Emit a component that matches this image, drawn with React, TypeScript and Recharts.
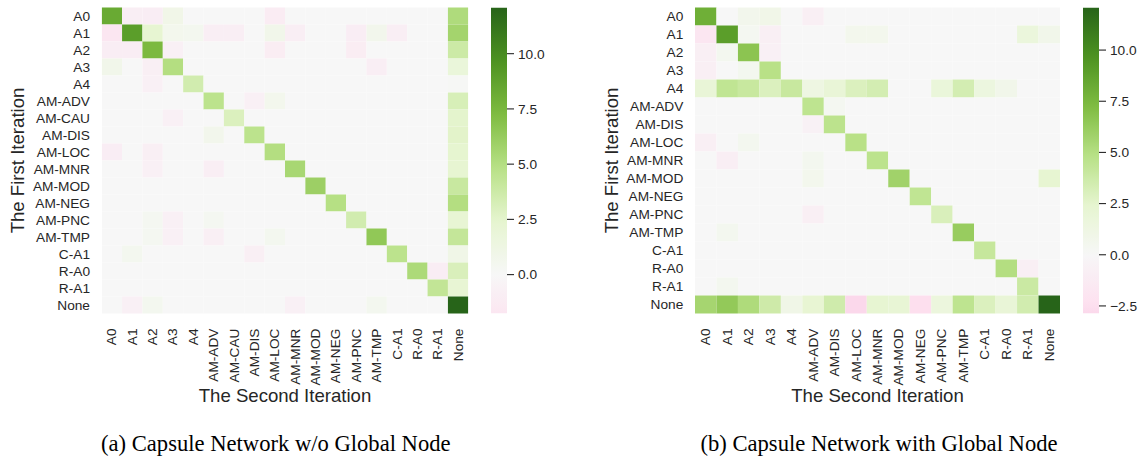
import React from 'react';
import { BarChart, Bar, XAxis, YAxis, Cell } from 'recharts';

const SANS = '"Liberation Sans", Arial, Helvetica, sans-serif';
const SERIF = '"Liberation Serif", "Times New Roman", serif';
const TEXT = '#262626';

// ---------- data ----------
const leftLabels = ['A0', 'A1', 'A2', 'A3', 'A4', 'AM-ADV', 'AM-CAU', 'AM-DIS', 'AM-LOC', 'AM-MNR', 'AM-MOD', 'AM-NEG', 'AM-PNC', 'AM-TMP', 'C-A1', 'R-A0', 'R-A1', 'None'];
const rightLabels = ['A0', 'A1', 'A2', 'A3', 'A4', 'AM-ADV', 'AM-DIS', 'AM-LOC', 'AM-MNR', 'AM-MOD', 'AM-NEG', 'AM-PNC', 'AM-TMP', 'C-A1', 'R-A0', 'R-A1', 'None'];

// rows = first iteration, columns = second iteration
const leftValues: number[][] = [
  [8.3, -0.9, -1.0, 0.9, 0, 0, 0, 0, -1.2, 0, 0, 0, 0, 0, 0, 0, 0, 5.2],
  [-1.76, 9.0, 2.3, 0.6, 0.5, -0.9, -0.9, 0, 0.8, -0.9, 0, 0, -1.0, 0.7, -0.9, 0, 0, 5.7],
  [-1.0, -1.0, 7.4, -0.7, 0, 0, 0, 0, -1.1, 0, 0, 0, -1.1, 0, 0, 0, 0, 3.8],
  [0.8, 0, -0.8, 5.0, 0, 0, 0, 0, 0, 0, 0, 0, 0, -0.9, 0, 0, 0, 1.8],
  [0, 0, -0.7, 0, 3.5, 0, 0, 0, 0, 0, 0, 0, 0, 0, 0, 0, 0, 0.1],
  [0, 0, 0, 0, 0, 4.6, 0, -0.7, 0.6, 0, 0, 0, 0, 0, 0, 0, 0, 3.2],
  [0, 0, 0, -0.7, 0, 0, 3.0, 0, 0, 0, 0, 0, 0, 0, 0, 0, 0, 2.5],
  [0, 0, 0, 0, 0, 0.7, 0, 4.6, 0, 0, 0, 0, 0, 0, 0, 0, 0, 2.6],
  [-1.0, 0, -0.8, 0, 0, 0, 0, 0, 5.0, 0, 0, 0, 0, 0, 0, 0, 0, 2.4],
  [0, 0, -0.7, 0, 0, -0.9, 0, 0, 0, 5.5, 0, 0, 0, 0, 0, 0, 0, 2.3],
  [0, 0, 0, 0, 0, 0, 0, 0, 0, 0, 6.0, 0, 0, 0, 0, 0, 0, 4.0],
  [0, 0, 0, 0, 0, 0, 0, 0, 0, 0, 0, 4.9, 0, 0, 0, 0, 0, 5.0],
  [0, 0, 0.4, -0.7, 0, 0.4, 0, 0, 0, 0, 0, 0, 3.5, 0, 0, 0, 0, 2.2],
  [0, 0, 0.4, -0.7, 0, -0.8, 0, 0, 0.5, 0, 0, 0, 0, 6.5, 0, 0, 0, 4.2],
  [0, 0.5, 0, 0, 0, 0, 0, -0.8, 0, 0, 0, 0, 0, 0, 4.6, 0, 0, 1.0],
  [0, 0, 0, 0, 0, 0, 0, 0, 0, 0, 0, 0, 0, 0, 0, 5.3, -1.0, 3.1],
  [0, 0, 0, 0, 0, 0, 0, 0, 0, 0, 0, 0, 0, 0, 0, 0, 4.3, 2.2],
  [0, -0.7, 0.5, 0, 0, 0, 0, 0, 0, -0.7, 0, 0, 0, 0.5, 0, 0, 0, 12.09],
];

const rightValues: number[][] = [
  [8.0, 0, 0.7, 0.9, 0, -0.8, 0, 0, 0, 0, 0, 0, 0, 0, 0, 0, 0],
  [-1.8, 9.0, 0.4, -0.8, 0, 0, 0, 0.6, 0.6, 0, 0, 0, 0, 0, 0, 1.7, 0.8],
  [-0.8, 0.5, 6.7, -0.7, 0, 0, 0, 0, 0, 0, 0, 0, 0, 0, 0, 0, 0],
  [-0.8, 0, 0.5, 4.8, 0, 0, 0, 0, 0, 0, 0, 0, 0, 0, 0, 0, 0],
  [2.0, 4.4, 4.0, 3.0, 4.0, 1.3, 2.0, 3.0, 3.4, 0, 0, 1.8, 3.4, 1.5, 0.8, 0, 0],
  [0, 0, 0, 0, 0, 4.5, 0.4, 0, 0, 0, 0, 0, 0, 0, 0, 0, 0],
  [0, 0, 0, 0, 0, -0.6, 4.6, 0, 0, 0, 0, 0, 0, 0, 0, 0, 0],
  [-0.8, 0, 0.5, 0, 0, 0, 0, 4.8, 0, 0, 0, 0, 0, 0, 0, 0, 0],
  [0, -0.9, 0, 0, 0, 0.5, 0, 0, 4.6, 0, 0, 0, 0, 0, 0, 0, 0],
  [0, 0, 0, 0, 0, 0.6, 0, 0, 0, 5.8, 0, 0, 0, 0, 0, 0, 2.3],
  [0, 0, 0, 0, 0, 0, 0, 0, 0, 0, 4.4, 0, 0, 0, 0, 0, 0],
  [0, 0, 0, 0, 0, -0.8, 0, 0, 0, 0, 0, 3.1, 0, 0, 0, 0, 0],
  [0, 0.5, 0, 0, 0, 0, 0, 0, 0, 0, 0, 0, 6.2, 0, 0, 0, 0],
  [0, 0, 0, 0, 0, 0, 0, 0, 0, 0, 0, 0, 0, 4.1, 0, 0, 0],
  [0, 0, 0, 0, 0, 0, 0, 0, 0, 0, 0, 0, 0, 0, 5.0, -0.8, 0],
  [0, 0.5, 0, 0, 0, 0, 0, 0, 0, 0, 0, 0, 0, 0, 0, 3.9, 0],
  [5.6, 6.4, 5.2, 3.7, 1.0, 2.2, 3.6, -2.87, 2.3, 2.1, -2.5, 1.6, 4.5, 3.0, 2.0, 3.5, 12.08],
];

const leftRange = [-1.76, 12.09];
const rightRange = [-2.87, 12.08];
const leftBarTicks = [0, 2.5, 5, 7.5, 10];
const rightBarTicks = [-2.5, 0, 2.5, 5, 7.5, 10];

const xTitle = 'The Second Iteration';
const yTitle = 'The First Iteration';
const captionA = '(a) Capsule Network w/o Global Node';
const captionB = '(b) Capsule Network with Global Node';

// ---------- colour map (PiYG, centred at 0 like seaborn center=0) ----------
const PIYG = [
  [142, 1, 82], [197, 27, 125], [222, 119, 174], [241, 182, 218], [253, 224, 239],
  [247, 247, 247], [230, 245, 208], [184, 225, 134], [127, 188, 65], [77, 146, 33], [39, 100, 25],
];
function colorFor(v: number, vrange: number): string {
  let t = 0.5 + v / (2 * vrange);
  t = Math.max(0, Math.min(1, t));
  const p = t * 10;
  const i = Math.min(9, Math.floor(p));
  const f = p - i;
  const a = PIYG[i];
  const b = PIYG[i + 1];
  const c = a.map((x, k) => Math.round(x + (b[k] - x) * f));
  return `rgb(${c[0]},${c[1]},${c[2]})`;
}

const CH = 400; // chart height
const PLOT_TOP = 7.5;
const PLOT_BOTTOM = 313.5;

function Heatmap(props: { labels: string[]; values: number[][]; vrange: number; left: number; width: number; yAxisWidth: number; right: number }) {
  const { labels, values, vrange, left, width, yAxisWidth, right } = props;
  const n = labels.length;
  const data = labels.map((lab) => {
    const o: any = { row: lab };
    for (let j = 0; j < n; j++) o['c' + j] = 1;
    return o;
  });
  const ticks = labels.map((_, j) => j + 0.5);
  const renderXTick = (p: any) => {
    const idx = Math.floor(p.payload.value);
    return (
      <text
        transform={`translate(${p.x},${p.y + 15}) rotate(-90)`}
        textAnchor="end"
        dominantBaseline="central"
        fontSize={13.7}
        fill={TEXT}
        fontFamily={SANS}
      >
        {labels[idx]}
      </text>
    );
  };
  return (
    <div style={{ position: 'absolute', left, top: 0 }}>
      <BarChart
        width={width}
        height={CH}
        data={data}
        layout="vertical"
        margin={{ top: PLOT_TOP, right, bottom: 0, left: 0 }}
        barCategoryGap={0}
        barGap={0}
      >
        <XAxis
          type="number"
          domain={[0, n]}
          ticks={ticks}
          interval={0}
          allowDataOverflow
          tickLine={false}
          axisLine={false}
          tickSize={0}
          tickMargin={0}
          height={CH - PLOT_BOTTOM}
          tick={renderXTick}
        />
        <YAxis
          type="category"
          dataKey="row"
          width={yAxisWidth}
          interval={0}
          tickLine={false}
          axisLine={false}
          tickSize={0}
          tickMargin={11.7}
          tick={{ fontSize: 13.7, fill: TEXT, fontFamily: SANS }}
        />
        {labels.map((_, j) => (
          <Bar key={j} dataKey={'c' + j} stackId="s" isAnimationActive={false}>
            {values.map((row, i) => (
              <Cell key={i} fill={colorFor(row[j], vrange)} />
            ))}
          </Bar>
        ))}
      </BarChart>
    </div>
  );
}

const fmtTick = (v: number) => v.toFixed(1).replace('-', '\u2212');

function ColorBar(props: { left: number; range: number[]; ticks: number[]; id: string }) {
  const { left, range, ticks, id } = props;
  return (
    <div style={{ position: 'absolute', left, top: 0 }}>
      <BarChart
        width={76}
        height={CH}
        data={[{ name: 'cb', range: [range[0], range[1]] }]}
        margin={{ top: PLOT_TOP, right: 0, bottom: CH - PLOT_BOTTOM, left: 0 }}
        barCategoryGap={0}
      >
        <XAxis dataKey="name" type="category" hide />
        <YAxis
          orientation="right"
          type="number"
          domain={[range[0], range[1]]}
          allowDataOverflow
          ticks={ticks}
          interval={0}
          width={60}
          axisLine={false}
          tickLine={{ stroke: TEXT, strokeWidth: 1.1 }}
          tickSize={7}
          tickMargin={4}
          tick={{ fontSize: 13.7, fill: TEXT, fontFamily: SANS }}
          tickFormatter={fmtTick}
        />
        <Bar dataKey="range" fill={`url(#${id})`} isAnimationActive={false} />
      </BarChart>
    </div>
  );
}

function gradientStops(range: number[]) {
  const [vmin, vmax] = range;
  const vr = Math.max(vmax, -vmin);
  const N = 48;
  const stops = [];
  for (let k = 0; k <= N; k++) {
    const v = vmax - ((vmax - vmin) * k) / N;
    stops.push(<stop key={k} offset={`${(k / N) * 100}%`} stopColor={colorFor(v, vr)} />);
  }
  return stops;
}

export default function App() {
  const lvr = Math.max(leftRange[1], -leftRange[0]);
  const rvr = Math.max(rightRange[1], -rightRange[0]);
  return (
    <div style={{ position: 'absolute', left: 0, top: 0, width: 1144, height: 457, background: '#ffffff', overflow: 'hidden' }}>
      <svg width={0} height={0} style={{ position: 'absolute' }}>
        <defs>
          <linearGradient id="cbLeft" x1="0" y1="0" x2="0" y2="1">
            {gradientStops(leftRange)}
          </linearGradient>
          <linearGradient id="cbRight" x1="0" y1="0" x2="0" y2="1">
            {gradientStops(rightRange)}
          </linearGradient>
        </defs>
      </svg>

      <Heatmap labels={leftLabels} values={leftValues} vrange={lvr} left={0} width={480} yAxisWidth={101.7} right={11.7} />
      <ColorBar left={491} range={leftRange} ticks={leftBarTicks} id="cbLeft" />

      <Heatmap labels={rightLabels} values={rightValues} vrange={rvr} left={560} width={510} yAxisWidth={135} right={10} />
      <ColorBar left={1083} range={rightRange} ticks={rightBarTicks} id="cbRight" />

      <svg width={1144} height={457} style={{ position: 'absolute', left: 0, top: 0, pointerEvents: 'none' }}>
        <text x={285} y={401.7} textAnchor="middle" fontSize={18.6} fill={TEXT} fontFamily={SANS}>{xTitle}</text>
        <text x={877.5} y={401.7} textAnchor="middle" fontSize={18.6} fill={TEXT} fontFamily={SANS}>{xTitle}</text>
        <text transform="translate(24,160.5) rotate(-90)" textAnchor="middle" fontSize={18.6} fill={TEXT} fontFamily={SANS}>{yTitle}</text>
        <text transform="translate(617.7,160.5) rotate(-90)" textAnchor="middle" fontSize={18.6} fill={TEXT} fontFamily={SANS}>{yTitle}</text>
        <text x={275.8} y={451} textAnchor="middle" fontSize={22.6} fill="#000" fontFamily={SERIF}>{captionA}</text>
        <text x={879} y={451} textAnchor="middle" fontSize={22.6} fill="#000" fontFamily={SERIF}>{captionB}</text>
      </svg>
    </div>
  );
}
